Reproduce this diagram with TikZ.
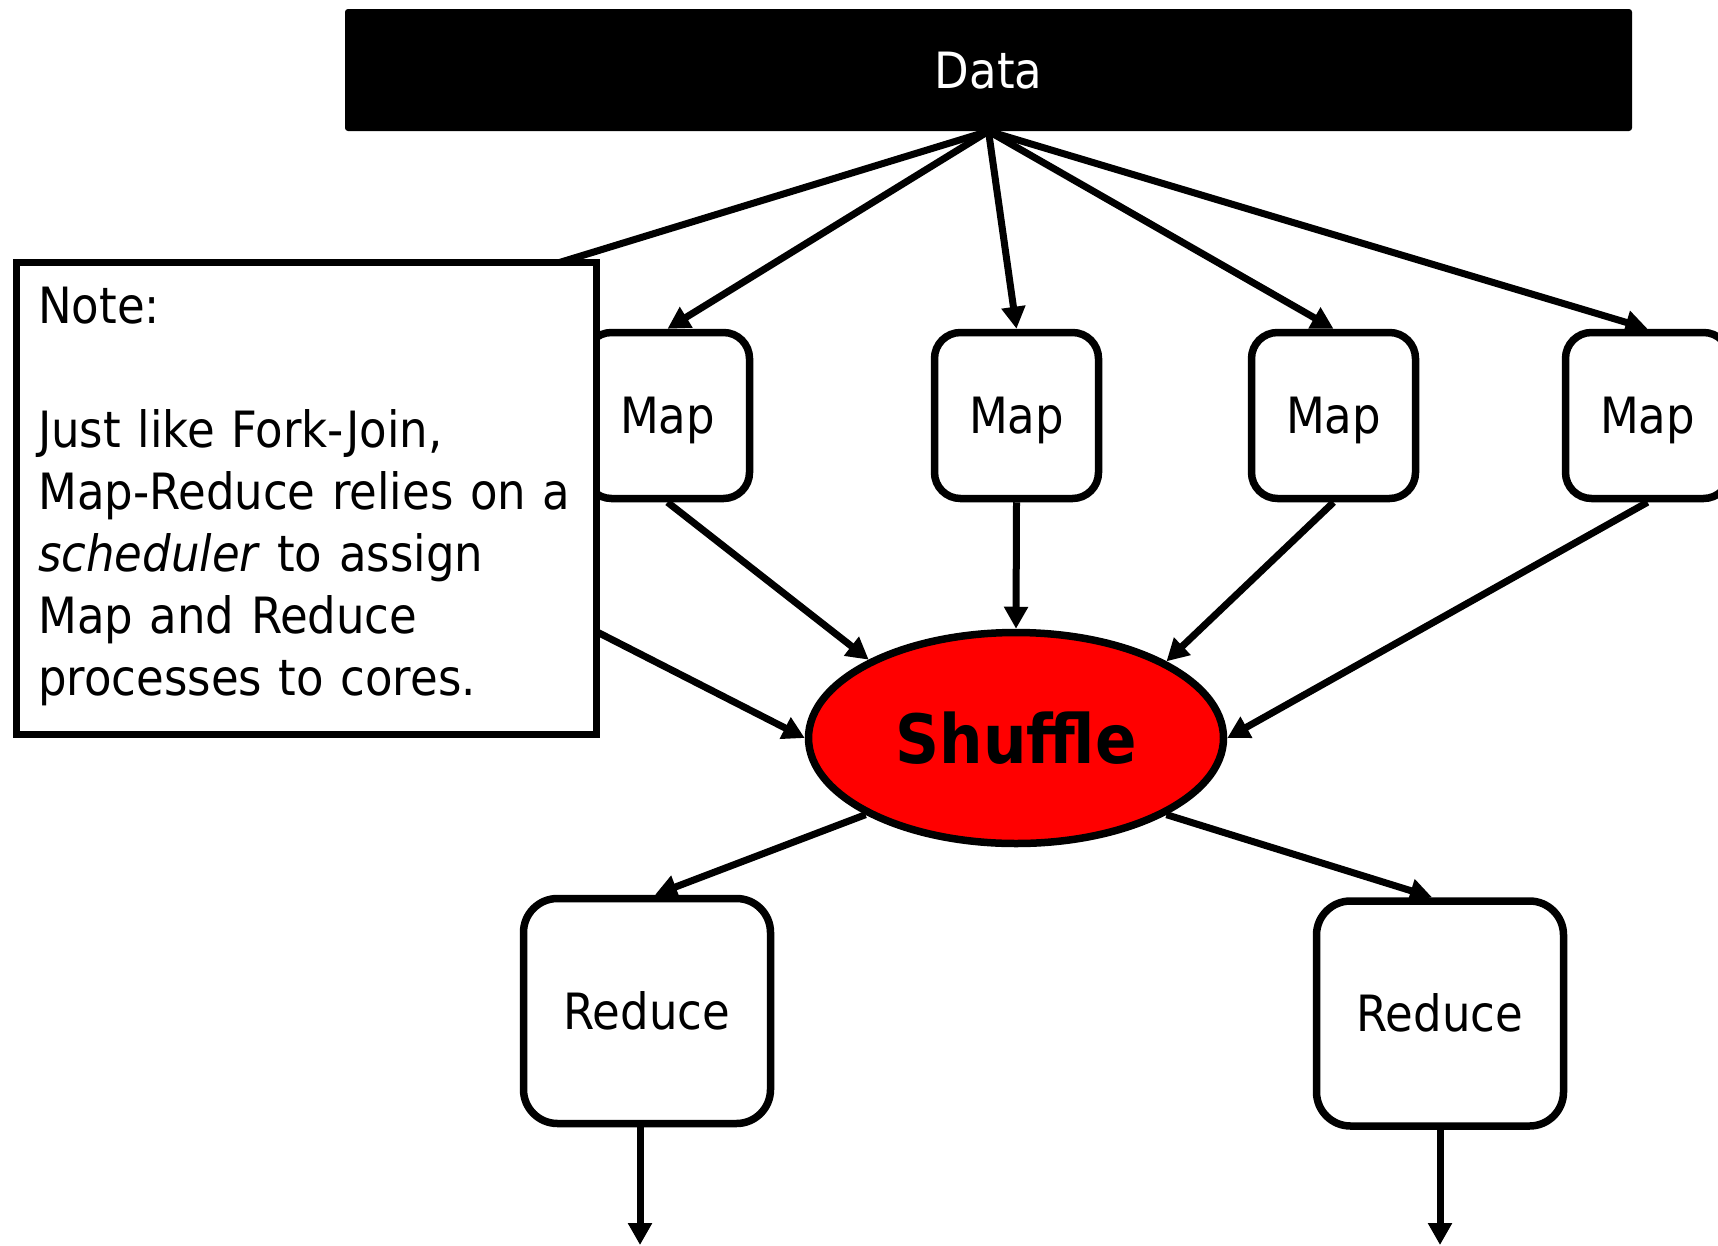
\documentclass[tikz,border=0pt]{standalone}
\usepackage{fontspec}
\setmainfont{DejaVu Sans Condensed}
\usetikzlibrary{arrows.meta,shapes.geometric}
\begin{document}
\begin{tikzpicture}[x=1pt,y=-1pt,
  every node/.style={font=\fontsize{50}{62}\selectfont, inner sep=0pt},
  flow/.style={line width=7pt, -{Triangle[length=22pt,width=23pt]}},
  capcentred/.style={text height=36pt, text depth=0pt},
  databar/.style={fill=black, rounded corners=3pt, text=white,
    minimum width=1287pt, minimum height=122pt, capcentred},
  mapbox/.style={draw, line width=7.5pt, rounded corners=26pt, fill=white,
    minimum width=164pt, minimum height=166pt, capcentred},
  reducebox/.style={draw, line width=7.5pt, rounded corners=34pt, fill=white,
    minimum width=247pt, minimum height=225pt, capcentred},
  shufflenode/.style={ellipse, draw, line width=7.5pt, fill=red,
    minimum width=415pt, minimum height=211pt,
    font=\fontsize{68}{80}\selectfont\bfseries, text height=50pt, text depth=0pt},
  notebox/.style={draw, line width=7.5pt, fill=white,
    minimum width=580pt, minimum height=472pt},
]
\useasboundingbox (0,0) rectangle (1718,1245);

% source of all data
\node[databar] (data) at (988.5,70) {Data};

% map workers (the first one sits behind the note)
\node[mapbox] (map0) at (343,415.5) {};
\node[mapbox] (map1) at (667.5,415.5) {Map};
\node[mapbox] (map2) at (1016.5,415.5) {Map};
\node[mapbox] (map3) at (1333.5,415.5) {Map};
\node[mapbox] (map4) at (1647.5,415.5) {Map};

% shuffle stage
\node[shufflenode] (shuffle) at (1016,738) {Shuffle};

% reduce workers
\node[reducebox] (red1) at (647,1011) {Reduce};
\node[reducebox] (red2) at (1440,1013.5) {Reduce};

% data fans out to the mappers
\foreach \m in {map0,map1,map2,map3,map4}
  \draw[flow] (data.south) -- (\m.north);

% mappers feed the shuffle
\draw[flow] (map0.south) -- (shuffle.west);
\draw[flow] (map1.south) -- (shuffle.152);
\draw[flow] (map2.south) -- (shuffle.north);
\draw[flow] (map3.south) -- (shuffle.27);
\draw[flow] (map4.south) -- (shuffle.east);

% shuffle feeds the reducers
\draw[flow] (shuffle.207) -- ([xshift=8pt]red1.north);
\draw[flow] (shuffle.333) -- ([xshift=-8pt]red2.north);

% reducer outputs
\coordinate (out1) at (640,1245);
\coordinate (out2) at (1440,1245);
\draw[flow] (red1.south -| out1) -- (out1);
\draw[flow] (red2.south -| out2) -- (out2);

% explanatory note on top
\node[notebox] (note) at (306.5,498.5) {};
\node[anchor=base west, text width=560pt, align=left] (notetext) at (38,323)
  {Note:\\[62pt]Just like Fork-Join,\\Map-Reduce relies on a\\\textit{scheduler} to assign\\Map and Reduce\\processes to cores.};
\end{tikzpicture}
\end{document}
